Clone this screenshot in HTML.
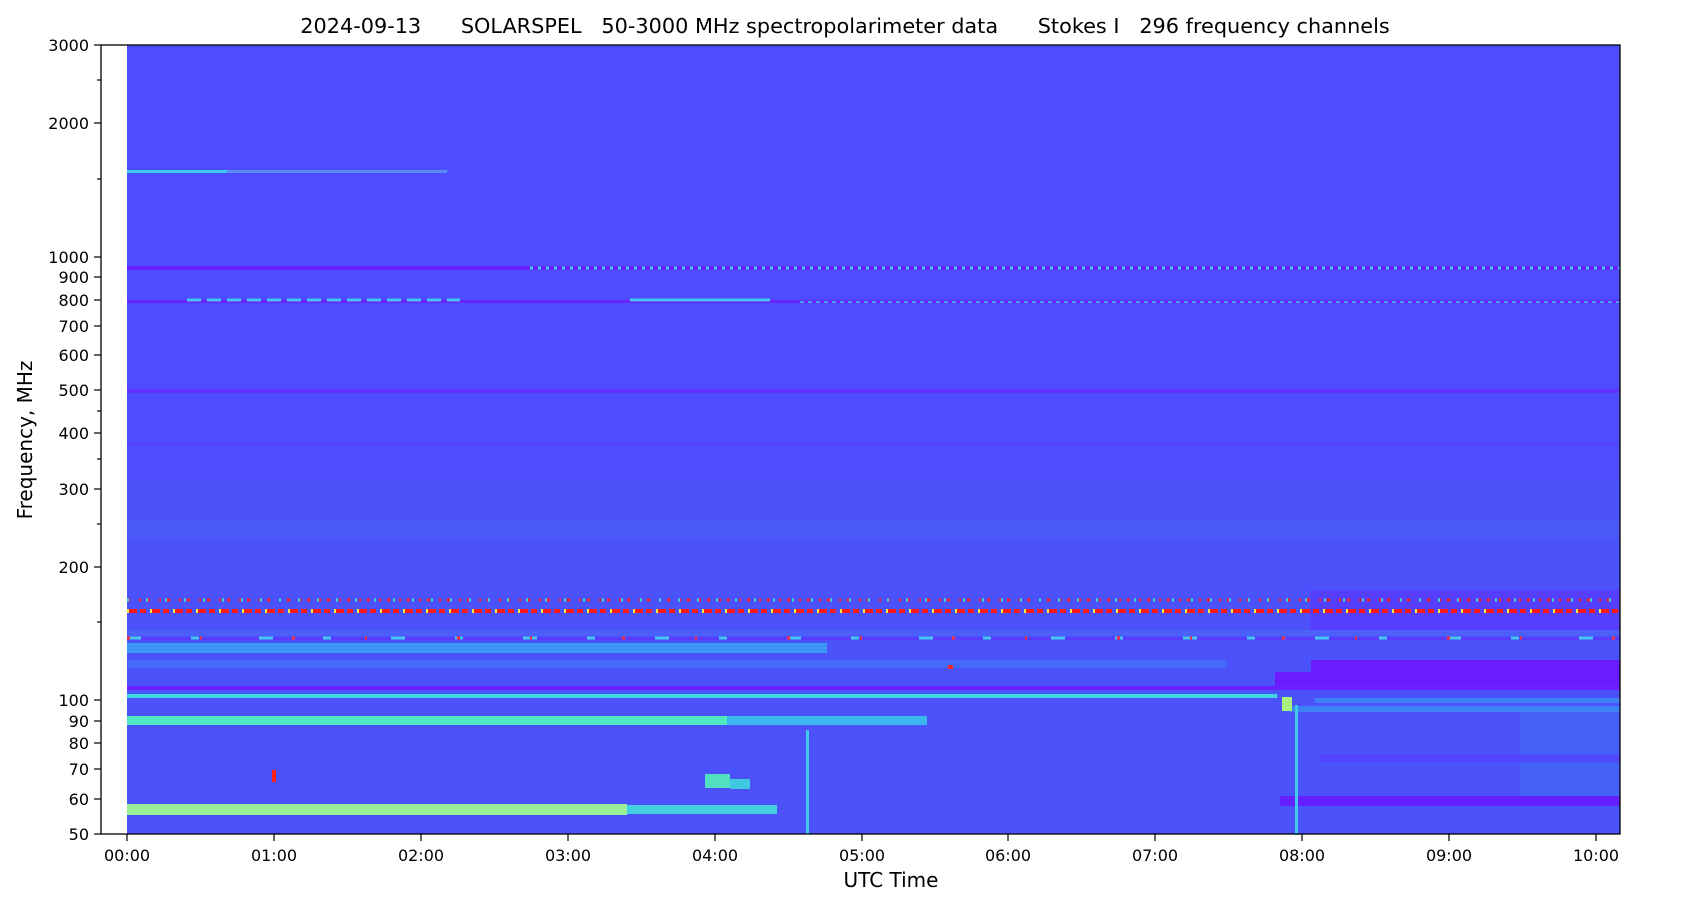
<!DOCTYPE html>
<html><head><meta charset="utf-8"><style>
body{margin:0;background:#fff;}
svg text{font-family:"DejaVu Sans","Liberation Sans",sans-serif;fill:#000;}
</style></head><body>
<svg width="1687" height="906" xmlns="http://www.w3.org/2000/svg">
<text x="845" y="33" font-size="20.8" text-anchor="middle" xml:space="preserve">2024-09-13      SOLARSPEL   50-3000 MHz spectropolarimeter data      Stokes I   296 frequency channels</text>
<rect x="127" y="45" width="1493" height="789" fill="#4d4dfd"/>
<rect x="127" y="480" width="1493" height="354" fill="#4b52f9"/>
<rect x="127" y="520" width="1493" height="20" fill="#4a5ef6" opacity="0.5"/>
<rect x="127" y="630" width="1493" height="6" fill="#4a6af6" opacity="0.6"/>
<rect x="1310" y="590" width="310" height="40" fill="#5a38ff" opacity="0.7"/>
<rect x="1311" y="660" width="309" height="27" fill="#6a1cff"/>
<rect x="1275" y="672" width="40" height="15" fill="#6a1cff"/>
<rect x="127" y="170" width="100" height="3" fill="#3cc8f0"/>
<rect x="227" y="170" width="220" height="3" fill="#5a8af8"/>
<rect x="127" y="266" width="1493" height="4" fill="#6a20ff"/>
<line x1="530" y1="268" x2="1620" y2="268" stroke="#40d0f0" stroke-width="3" stroke-dasharray="3 5"/>
<rect x="127" y="300" width="1493" height="3" fill="#6a20ff"/>
<line x1="187" y1="300" x2="460" y2="300" stroke="#40c8f0" stroke-width="3" stroke-dasharray="14 6"/>
<line x1="630" y1="300" x2="770" y2="300" stroke="#40c8f0" stroke-width="3"/>
<line x1="800" y1="302" x2="1620" y2="302" stroke="#4aa0f6" stroke-width="2" stroke-dasharray="4 4"/>
<rect x="127" y="389" width="1493" height="4" fill="#6030ff"/>
<rect x="127" y="443" width="1493" height="3" fill="#5540ff"/>
<line x1="127" y1="600" x2="1620" y2="600" stroke="#ff2020" stroke-width="3" stroke-dasharray="3 9 2 6"/>
<line x1="127" y1="600" x2="1620" y2="600" stroke="#40e0d0" stroke-width="3" stroke-dasharray="2 17"/>
<line x1="127" y1="611" x2="1620" y2="611" stroke="#ff1818" stroke-width="4" stroke-dasharray="10 3 6 4"/>
<line x1="127" y1="611" x2="1620" y2="611" stroke="#f0f040" stroke-width="4" stroke-dasharray="2 21"/>
<rect x="127" y="637" width="1493" height="3" fill="#5a3cff"/>
<line x1="127" y1="638" x2="1620" y2="638" stroke="#40c8f0" stroke-width="3" stroke-dasharray="14 50 8 60"/>
<line x1="127" y1="638" x2="1620" y2="638" stroke="#ff3030" stroke-width="3" stroke-dasharray="3 70 2 90"/>
<rect x="127" y="643" width="700" height="10" fill="#3aa8f2" opacity="0.8"/>
<rect x="127" y="660" width="1100" height="8" fill="#3e80f6" opacity="0.5"/>
<rect x="127" y="686" width="1493" height="4" fill="#6a20ff"/>
<rect x="127" y="694" width="1150" height="4" fill="#40d8e0"/>
<rect x="1315" y="698" width="305" height="5" fill="#3e80f6"/>
<rect x="127" y="716" width="600" height="9" fill="#50e8c0"/>
<rect x="727" y="716" width="200" height="9" fill="#3ab8ee"/>
<rect x="1290" y="706" width="330" height="6" fill="#3a90f4" opacity="0.8"/>
<rect x="1520" y="712" width="100" height="90" fill="#3a7ef4" opacity="0.35"/>
<rect x="1320" y="754" width="300" height="8" fill="#5a3aff" opacity="0.6"/>
<rect x="127" y="804" width="500" height="11" fill="#9af098"/>
<rect x="627" y="805" width="150" height="9" fill="#40d0e0"/>
<rect x="1280" y="796" width="340" height="10" fill="#6420ff"/>
<rect x="1282" y="697" width="10" height="14" fill="#a8f080"/>
<rect x="1295" y="705" width="3" height="130" fill="#40c8f0"/>
<rect x="272" y="770" width="4" height="12" fill="#ff2020"/>
<rect x="705" y="774" width="25" height="14" fill="#50e0c0"/>
<rect x="730" y="779" width="20" height="10" fill="#40c8e0"/>
<rect x="806" y="730" width="3" height="104" fill="#40c8f0"/>
<rect x="948" y="665" width="5" height="4" fill="#ff2020"/>
<rect x="101" y="45" width="1519" height="789" fill="none" stroke="#000" stroke-width="1.3"/>
<g stroke="#000" stroke-width="1.2">
<line x1="94" y1="45" x2="101" y2="45"/><line x1="94" y1="123" x2="101" y2="123"/><line x1="94" y1="257" x2="101" y2="257"/><line x1="94" y1="277" x2="101" y2="277"/><line x1="94" y1="300" x2="101" y2="300"/><line x1="94" y1="326" x2="101" y2="326"/><line x1="94" y1="355" x2="101" y2="355"/><line x1="94" y1="390" x2="101" y2="390"/><line x1="94" y1="433" x2="101" y2="433"/><line x1="94" y1="489" x2="101" y2="489"/><line x1="94" y1="567" x2="101" y2="567"/><line x1="94" y1="700" x2="101" y2="700"/><line x1="94" y1="721" x2="101" y2="721"/><line x1="94" y1="743" x2="101" y2="743"/><line x1="94" y1="769" x2="101" y2="769"/><line x1="94" y1="799" x2="101" y2="799"/><line x1="94" y1="834" x2="101" y2="834"/>
<line x1="97" y1="80" x2="101" y2="80"/><line x1="97" y1="179" x2="101" y2="179"/><line x1="97" y1="411" x2="101" y2="411"/><line x1="97" y1="459" x2="101" y2="459"/><line x1="97" y1="524" x2="101" y2="524"/><line x1="97" y1="622" x2="101" y2="622"/>
</g>
<g font-size="16" text-anchor="end">
<text x="89" y="51">3000</text><text x="89" y="129">2000</text><text x="89" y="263">1000</text><text x="89" y="283">900</text><text x="89" y="306">800</text><text x="89" y="332">700</text><text x="89" y="361">600</text><text x="89" y="396">500</text><text x="89" y="439">400</text><text x="89" y="495">300</text><text x="89" y="573">200</text><text x="89" y="706">100</text><text x="89" y="727">90</text><text x="89" y="749">80</text><text x="89" y="775">70</text><text x="89" y="805">60</text><text x="89" y="840">50</text>
</g>
<g stroke="#000" stroke-width="1.2">
<line x1="127" y1="834" x2="127" y2="841"/><line x1="274" y1="834" x2="274" y2="841"/><line x1="421" y1="834" x2="421" y2="841"/><line x1="568" y1="834" x2="568" y2="841"/><line x1="715" y1="834" x2="715" y2="841"/><line x1="862" y1="834" x2="862" y2="841"/><line x1="1008" y1="834" x2="1008" y2="841"/><line x1="1155" y1="834" x2="1155" y2="841"/><line x1="1302" y1="834" x2="1302" y2="841"/><line x1="1449" y1="834" x2="1449" y2="841"/><line x1="1596" y1="834" x2="1596" y2="841"/>
</g>
<g font-size="16" text-anchor="middle">
<text x="127" y="861">00:00</text><text x="274" y="861">01:00</text><text x="421" y="861">02:00</text><text x="568" y="861">03:00</text><text x="715" y="861">04:00</text><text x="862" y="861">05:00</text><text x="1008" y="861">06:00</text><text x="1155" y="861">07:00</text><text x="1302" y="861">08:00</text><text x="1449" y="861">09:00</text><text x="1596" y="861">10:00</text>
</g>
<text x="891" y="887" font-size="20" text-anchor="middle">UTC Time</text>
<text transform="translate(32,440) rotate(-90)" font-size="20" text-anchor="middle">Frequency, MHz</text>
</svg>
</body></html>
